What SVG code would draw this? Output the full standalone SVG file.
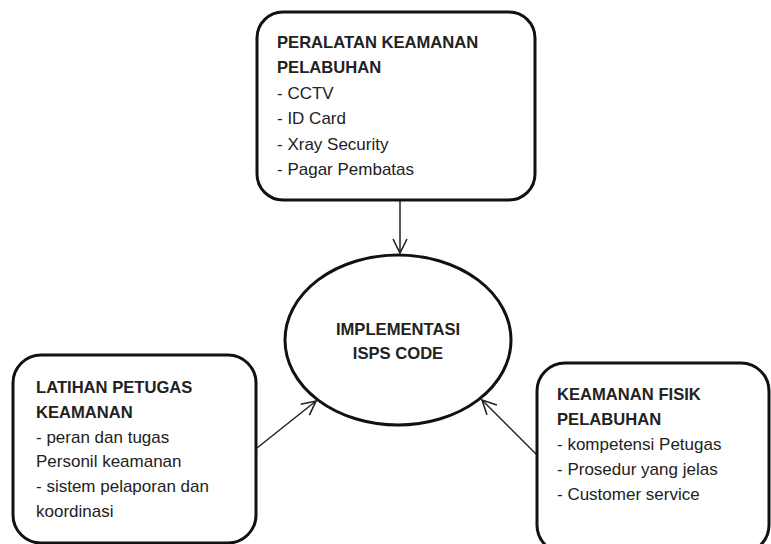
<svg xmlns="http://www.w3.org/2000/svg" width="771" height="544" viewBox="0 0 771 544">
<defs>
<style>
.box{fill:#fff;stroke:#111;stroke-width:3}
.t{font-family:"Liberation Sans",Arial,sans-serif;font-size:17px;fill:#222}
.b{font-weight:bold;font-size:16.6px}
.c{text-anchor:middle}
.conn{stroke:#222;stroke-width:1.5;fill:none;marker-end:url(#arr)}
</style>
<marker id="arr" viewBox="0 0 16 16" refX="15" refY="8" markerWidth="16" markerHeight="16" markerUnits="userSpaceOnUse" orient="auto">
<path d="M1,1 L15,8 L1,15" fill="none" stroke="#222" stroke-width="1.6"/>
</marker>
</defs>
<rect width="771" height="544" fill="#fff"/>
<g id="connectors">
<line class="conn" x1="400" y1="200" x2="400" y2="253"/>
<line class="conn" x1="257" y1="448" x2="316" y2="401"/>
<line class="conn" x1="537" y1="455" x2="482" y2="400"/>
</g>
<g id="node-peralatan">
<rect class="box" x="257" y="12" width="278" height="188" rx="26"/>
<text class="t b" x="277" y="48">PERALATAN KEAMANAN</text>
<text class="t b" x="277" y="73.4">PELABUHAN</text>
<text class="t" x="277" y="98.8">- CCTV</text>
<text class="t" x="277" y="124.2">- ID Card</text>
<text class="t" x="277" y="149.6">- Xray Security</text>
<text class="t" x="277" y="175">- Pagar Pembatas</text>
</g>
<g id="node-implementasi">
<ellipse class="box" cx="398" cy="340" rx="113" ry="85"/>
<text class="t b c" x="398" y="335">IMPLEMENTASI</text>
<text class="t b c" x="398" y="359">ISPS CODE</text>
</g>
<g id="node-latihan">
<rect class="box" x="13" y="355" width="243" height="188" rx="28"/>
<text class="t b" x="36" y="393">LATIHAN PETUGAS</text>
<text class="t b" x="36" y="418">KEAMANAN</text>
<text class="t" x="36" y="443">- peran dan tugas</text>
<text class="t" x="36" y="467">Personil keamanan</text>
<text class="t" x="36" y="492">- sistem pelaporan dan</text>
<text class="t" x="36" y="517">koordinasi</text>
</g>
<g id="node-fisik">
<rect class="box" x="537" y="363" width="232" height="190" rx="28"/>
<text class="t b" x="557" y="400">KEAMANAN FISIK</text>
<text class="t b" x="557" y="425">PELABUHAN</text>
<text class="t" x="557" y="450">- kompetensi Petugas</text>
<text class="t" x="557" y="475">- Prosedur yang jelas</text>
<text class="t" x="557" y="500">- Customer service</text>
</g>
</svg>
